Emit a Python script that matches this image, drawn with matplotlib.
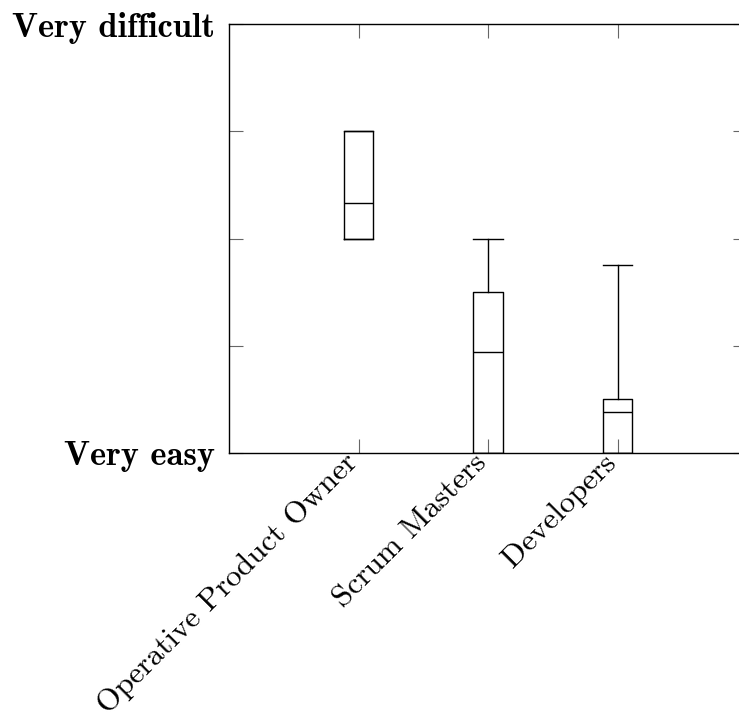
import matplotlib
matplotlib.use("Agg")
import matplotlib.pyplot as plt

plt.rcParams['axes.formatter.use_mathtext'] = True

# categories and box statistics (1 = very easy, 5 = very difficult)
groups = ["Operative Product Owner", "Scrum Masters", "Developers"]
whisker_low = [3.0, 1.0, 1.0]
quart_low = [3.0, 1.0, 1.0]
medians = [3.33, 1.94, 1.38]
quart_high = [4.0, 2.5, 1.5]
whisker_high = [4.0, 3.0, 2.75]

y_ticks = [1, 2, 3, 4, 5]
y_labels = ["Very easy", "", "", "", "Very difficult"]

stats = []
for i, name in enumerate(groups):
    stats.append({
        "label": name,
        "whislo": whisker_low[i],
        "q1": quart_low[i],
        "med": medians[i],
        "q3": quart_high[i],
        "whishi": whisker_high[i],
        "fliers": [],
    })

fig = plt.figure(figsize=(7.39, 7.15), dpi=100)
# right edge of the axes runs past the image, as in the original
ax = fig.add_axes([229 / 739, 262 / 715, 518 / 739, 429 / 715])

positions = list(range(1, len(groups) + 1))
line_kw = dict(color="black", linewidth=1.0)
ax.bxp(stats, positions=positions, widths=0.23, showfliers=False,
       boxprops=line_kw, medianprops=line_kw, whiskerprops=line_kw,
       capprops=line_kw, capwidths=0.23)

ax.set_xlim(0, 4)
ax.set_ylim(1, 5)
ax.set_xticks(positions)
ax.set_xticklabels(groups, rotation=45, ha="right", va="baseline",
                   rotation_mode="anchor", family="cmr10", fontsize=22.5)
ax.set_yticks(y_ticks)
ax.set_yticklabels(y_labels, family="cmb10", fontsize=24.8)

ax.tick_params(direction="in", length=10, width=0.8, color="#666666",
               top=True, right=True)
ax.tick_params(axis="x", pad=8)
ax.tick_params(axis="y", pad=10)
for s in ax.spines.values():
    s.set_linewidth(1.0)

fig.savefig("out.png", dpi=100)
